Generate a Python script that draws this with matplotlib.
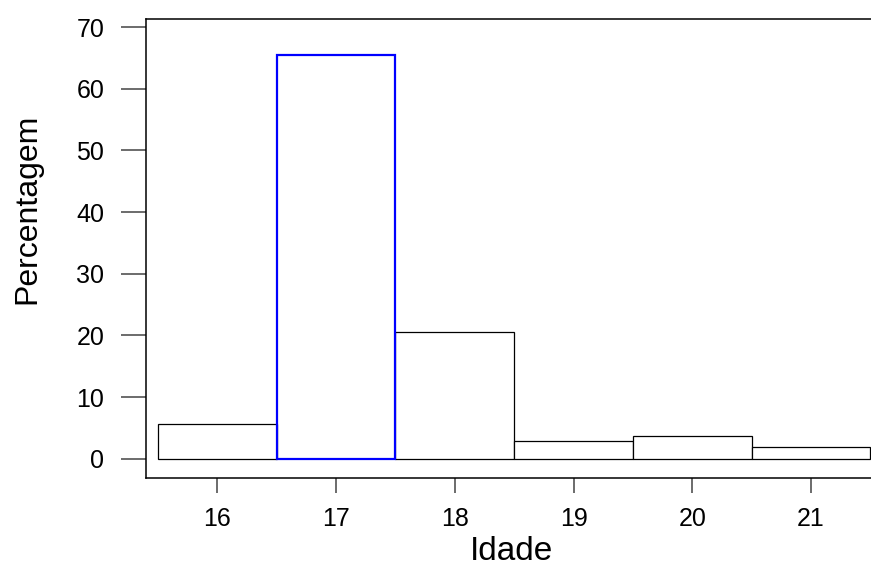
import matplotlib
matplotlib.use("Agg")
from matplotlib import pyplot as plt

plt.rcParams['font.family'] = ['Liberation Sans', 'DejaVu Sans']

IDADES = [16, 17, 18, 19, 20, 21]
PERCENT = [5.6, 65.4, 20.6, 2.8, 3.7, 1.9]
DESTAQUE = 17
Y_TICKS = [0, 10, 20, 30, 40, 50, 60, 70]


def main() -> None:
    fig = plt.figure(figsize=(8.71, 5.70), dpi=100)
    ax = fig.add_axes([146 / 871, 92 / 570, 725 / 871, 459 / 570])

    for idade, pct in zip(IDADES, PERCENT):
        if idade == DESTAQUE:
            continue
        ax.bar(idade, pct, width=1.0, color='white', edgecolor='black', linewidth=0.9, zorder=2)
    i = IDADES.index(DESTAQUE)
    ax.bar(DESTAQUE, PERCENT[i], width=1.0, color='none', edgecolor='#0000ff', linewidth=1.6, zorder=3)

    ax.set_xlim(15.4, 21.505)
    ax.set_ylim(-3.13, 71.3)
    ax.set_xticks(IDADES)
    ax.set_yticks(Y_TICKS)

    for side in ['left', 'top', 'bottom']:
        ax.spines[side].set_linewidth(1.1)
        ax.spines[side].set_color('black')
    ax.spines['right'].set_visible(False)

    ax.tick_params(axis='y', length=18, width=1.1, color='#444444', pad=12, labelsize=18)
    ax.tick_params(axis='x', length=11, width=1.1, color='#444444', pad=10, labelsize=18)

    fig.text(27 / 871, 1 - 209 / 570, 'Percentagem', rotation=90, ha='center', va='center', fontsize=23)
    fig.text(511 / 871, 1 - 552 / 570, 'Idade', ha='center', va='center', fontsize=24)

    fig.savefig('out.png', dpi=100)


if __name__ == '__main__':
    main()
